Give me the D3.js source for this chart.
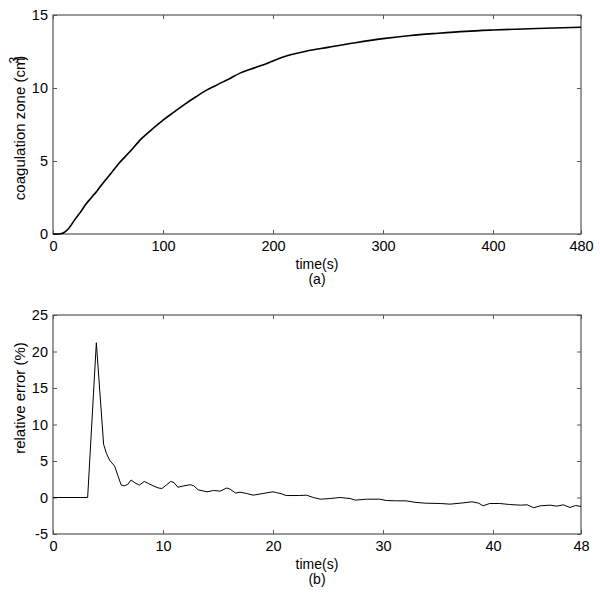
<!DOCTYPE html>
<html>
<head>
<meta charset="utf-8">
<script src="https://cdn.jsdelivr.net/npm/d3@7"></script>
<style>
  body { margin: 0; background: #fff; }
  svg text { font-family: "Liberation Sans", Arial, sans-serif; fill: #000; }
</style>
</head>
<body>
<div id="container"></div>
<script>
/* DATA | */
const timeA = [0, 5, 8, 10, 12, 15, 20, 25, 30, 35, 40, 45, 50, 60, 70, 80, 90, 100, 110, 120, 130, 140, 150, 160, 170, 180, 190, 200, 210, 230, 250, 275, 300, 325, 350, 375, 400, 440, 480]
const zoneA = [0, 0, 0.03, 0.1, 0.22, 0.45, 1.0, 1.5, 2.05, 2.5, 2.95, 3.45, 3.9, 4.85, 5.65, 6.5, 7.17, 7.8, 8.35, 8.9, 9.4, 9.87, 10.25, 10.62, 11.02, 11.3, 11.56, 11.85, 12.14, 12.52, 12.78, 13.1, 13.38, 13.6, 13.75, 13.88, 13.97, 14.08, 14.16]
const ticksA = [0, 100, 200, 300, 400, 480]

const timeB = [0, 3.15, 3.94, 4.6, 4.85, 5.15, 5.6, 5.9, 6.2, 6.5, 6.8, 7.1, 7.45, 7.85, 8.3, 8.7, 9.1, 9.6, 9.9, 10.3, 10.7, 11.0, 11.35, 11.9, 12.5, 12.8, 13.2, 14.0, 14.6, 15.2, 15.8, 16.1, 16.6, 17.0, 17.6, 18.2, 19.1, 20.0, 20.3, 20.8, 21.2, 22.4, 23.05, 23.66, 24.3, 25.2, 26.1, 27.0, 27.5, 28.5, 29.7, 30.3, 31.2, 32.1, 33.0, 33.9, 35.2, 36.1, 37.0, 38.1, 38.7, 39.1, 39.7, 40.6, 41.5, 42.5, 43.1, 43.7, 44.3, 45.2, 45.8, 46.4, 47.0, 47.5, 48.0]
const errorB = [0, 0, 21.2, 7.3, 6.07, 5.1, 4.3, 3.0, 1.7, 1.6, 1.8, 2.4, 2.0, 1.7, 2.2, 1.9, 1.6, 1.3, 1.23, 1.7, 2.2, 2.05, 1.4, 1.6, 1.75, 1.6, 1.05, 0.78, 0.96, 0.87, 1.3, 1.14, 0.6, 0.73, 0.55, 0.32, 0.55, 0.78, 0.68, 0.5, 0.27, 0.27, 0.32, 0, -0.23, -0.14, 0, -0.14, -0.36, -0.23, -0.23, -0.41, -0.46, -0.46, -0.68, -0.78, -0.82, -0.91, -0.78, -0.59, -0.78, -1.14, -0.82, -0.82, -0.96, -1.05, -1.0, -1.4, -1.14, -1.05, -1.19, -1.0, -1.37, -1.1, -1.23]
const ticksB = [0, 10, 20, 30, 40, 48]

/* CONSTANTS */
const width = 600, height = 595
const frameColor = "#555"
const plainNum = d => String(d) /* keeps the ascii hyphen on -5 */

const svg = d3.select("#container")
  .append("svg")
  .attr("width", width)
  .attr("height", height)

/* one boxed panel, matlab style: ticks inside on all four sides */
function panel(opts) {
  const { top, bottom, left, right, xDomain, yDomain, xTicks, yTicks, xs, ys, curve, strokeW, yLabel, yLabelY, caption } = opts

  const xScale = d3.scaleLinear().domain(xDomain).range([left, right])
  const yScale = d3.scaleLinear().domain(yDomain).range([bottom, top])

  const g = svg.append("g")

  const styleAxis = sel => {
    sel.select(".domain").remove()
    sel.selectAll(".tick line").attr("stroke", frameColor)
    sel.selectAll(".tick text").style("font-size", "14.5px").attr("fill", "#000")
  }

  g.append("g")
    .attr("transform", `translate(0,${bottom})`)
    .call(d3.axisBottom(xScale).tickValues(xTicks).tickSize(-4).tickPadding(7).tickFormat(plainNum))
    .call(styleAxis)
  g.append("g")
    .attr("transform", `translate(0,${top})`)
    .call(d3.axisTop(xScale).tickValues(xTicks).tickSize(-4).tickFormat(""))
    .call(styleAxis)
  g.append("g")
    .attr("transform", `translate(${left},0)`)
    .call(d3.axisLeft(yScale).tickValues(yTicks).tickSize(-4).tickPadding(5).tickFormat(plainNum))
    .call(styleAxis)
  g.append("g")
    .attr("transform", `translate(${right},0)`)
    .call(d3.axisRight(yScale).tickValues(yTicks).tickSize(-4).tickFormat(""))
    .call(styleAxis)

  /* frame */
  g.append("rect")
    .attr("x", left).attr("y", top)
    .attr("width", right - left).attr("height", bottom - top)
    .attr("fill", "none")
    .attr("stroke", frameColor)
    .attr("stroke-width", 1.2)

  const line = d3.line()
    .x((d, i) => xScale(xs[i]))
    .y(d => yScale(d))
    .curve(curve)

  g.append("path")
    .datum(ys)
    .attr("fill", "none")
    .attr("stroke", "#000")
    .attr("stroke-width", strokeW)
    .attr("stroke-linejoin", "round")
    .attr("d", line)

  /* labels, two lines under the axis */
  const cx = (left + right) / 2
  g.append("text")
    .attr("x", cx).attr("y", bottom + 35)
    .attr("text-anchor", "middle")
    .style("font-size", "14px")
    .text("time(s)")
  g.append("text")
    .attr("x", cx).attr("y", bottom + 50)
    .attr("text-anchor", "middle")
    .style("font-size", "14px")
    .text(caption)

  const yl = g.append("text")
    .attr("transform", `translate(25,${yLabelY}) rotate(-90)`)
    .attr("text-anchor", "middle")
    .style("font-size", "15px")
  yLabel(yl)
}

panel({
  top: 15, bottom: 234, left: 53, right: 581,
  xDomain: [0, 480], yDomain: [0, 15],
  xTicks: ticksA, yTicks: [0, 5, 10, 15],
  xs: timeA, ys: zoneA,
  curve: d3.curveMonotoneX, strokeW: 1.6,
  caption: "(a)", yLabelY: 128,
  yLabel: t => {
    t.append("tspan").text("coagulation zone (cm")
    t.append("tspan").attr("dy", -7).attr("dx", -6).style("font-size", "12px").text("3")
    t.append("tspan").attr("dy", 7).attr("dx", -4).text(")")
  }
})

panel({
  top: 315, bottom: 534, left: 53, right: 581,
  xDomain: [0, 48], yDomain: [-5, 25],
  xTicks: ticksB, yTicks: [-5, 0, 5, 10, 15, 20, 25],
  xs: timeB, ys: errorB,
  curve: d3.curveLinear, strokeW: 1,
  caption: "(b)", yLabelY: 398,
  yLabel: t => t.text("relative error (%)")
})
</script>
</body>
</html>
